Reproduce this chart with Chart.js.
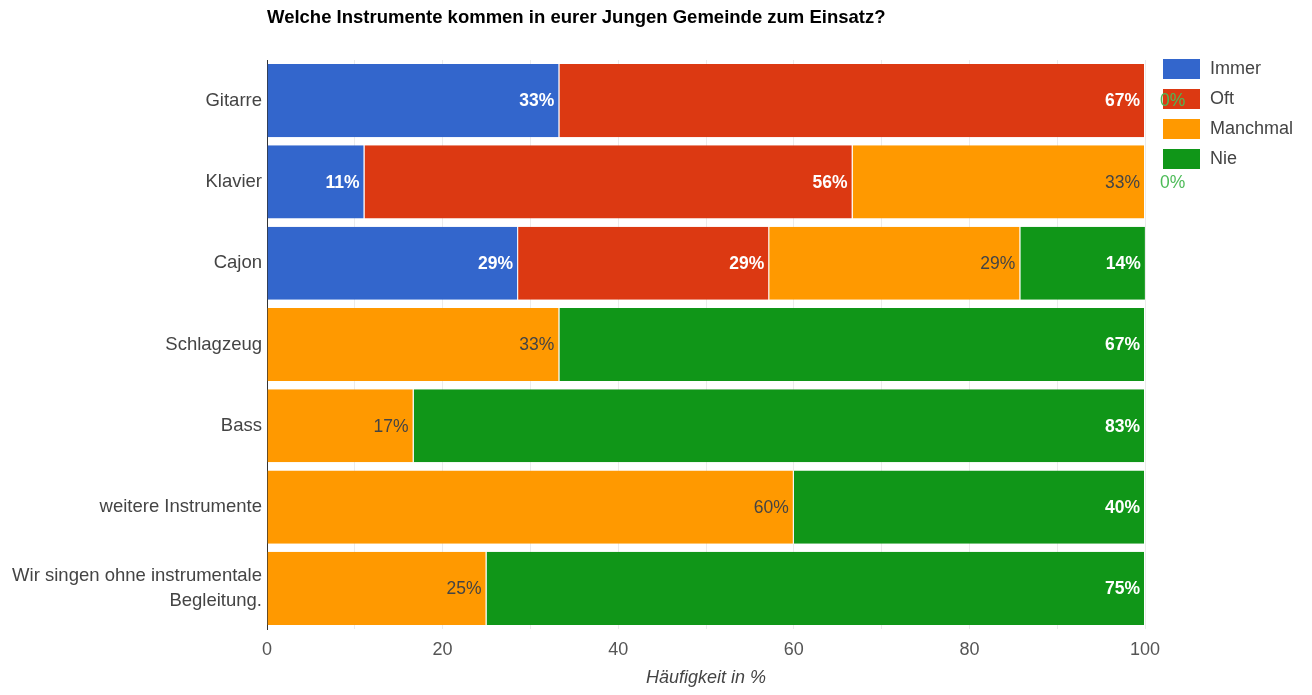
<!DOCTYPE html>
<html>
<head>
<meta charset="utf-8">
<script src="https://cdn.jsdelivr.net/npm/chart.js@4/dist/chart.umd.min.js"></script>
<style>
html,body{margin:0;padding:0;background:#fff;}
#wrap{width:1312px;height:695px;position:relative;}
</style>
</head>
<body>
<div id="wrap"><canvas id="c"></canvas></div>
<script>
const titleText = 'Welche Instrumente kommen in eurer Jungen Gemeinde zum Einsatz?';
const axisTitle = 'Häufigkeit in %';
const categories = ['Gitarre', 'Klavier', 'Cajon', 'Schlagzeug', 'Bass', 'weitere Instrumente', ['Wir singen ohne instrumentale', 'Begleitung.']];
const seriesNames = ['Immer', 'Oft', 'Manchmal', 'Nie'];
const immer    = [33.3, 11.1, 28.6, null, null, null, null];
const oft      = [66.7, 55.6, 28.6, null, null, null, null];
const manchmal = [null, 33.3, 28.6, 33.3, 16.7, 60.0, 25.0];
const nie      = [0,    0,    14.3, 66.7, 83.3, 40.0, 75.0];
const xTicks = [0, 20, 40, 60, 80, 100];
const colors = ['#3366cc', '#dc3912', '#ff9900', '#109618'];
const labelColors = ['#ffffff', '#ffffff', '#444444', '#ffffff'];
const labelBold = [true, true, false, true];
const FONT = "'Liberation Sans', Arial, sans-serif";

const seriesData = [immer, oft, manchmal, nie];

function drawLabels(chart) {
  const ctx = chart.ctx;
  chart.data.datasets.forEach((ds, di) => {
    const meta = chart.getDatasetMeta(di);
    meta.data.forEach((bar, i) => {
      const v = ds.data[i];
      if (v === null || v === undefined) return;
      const txt = Math.round(v) + '%';
      ctx.save();
      ctx.textBaseline = 'middle';
      if (v === 0) {
        ctx.font = '17.5px ' + FONT;
        ctx.fillStyle = '#4cbb57';
        ctx.textAlign = 'left';
        ctx.fillText(txt, bar.x + 15, bar.y + 1);
      } else {
        ctx.font = (labelBold[di] ? 'bold ' : '') + '17.5px ' + FONT;
        ctx.fillStyle = labelColors[di];
        ctx.textAlign = 'right';
        ctx.fillText(txt, bar.x - 5, bar.y + 1);
      }
      ctx.restore();
    });
  });
}

const decorPlugin = {
  id: 'decor',
  afterDraw(chart) {
    const ctx = chart.ctx;
    ctx.save();
    // title
    ctx.font = 'bold 18.5px ' + FONT;
    ctx.fillStyle = '#000';
    ctx.textAlign = 'left';
    ctx.textBaseline = 'middle';
    ctx.fillText(titleText, chart.chartArea.left, 18);
    // legend
    const lx = 1163, ly0 = 59, step = 30;
    chart.data.datasets.forEach((ds, i) => {
      const y = ly0 + i * step;
      ctx.fillStyle = ds.backgroundColor;
      ctx.fillRect(lx, y, 37, 20);
      ctx.fillStyle = '#444';
      ctx.font = '18px ' + FONT;
      ctx.textAlign = 'left';
      ctx.textBaseline = 'middle';
      ctx.fillText(ds.label, lx + 47, y + 10);
    });
    ctx.restore();
    drawLabels(chart);
  }
};

new Chart(document.getElementById('c'), {
  type: 'bar',
  data: {
    labels: categories,
    datasets: seriesNames.map((n, i) => ({
      label: n,
      data: seriesData[i],
      backgroundColor: colors[i],
      borderColor: '#ffffff',
      borderWidth: {left: 0, right: 1, top: 0, bottom: 0},
      borderSkipped: false,
      barPercentage: 0.9,
      categoryPercentage: 1.0
    }))
  },
  options: {
    indexAxis: 'y',
    responsive: true,
    maintainAspectRatio: false,
    animation: false,
    layout: {padding: {left: 0, right: 167, top: 60, bottom: 0}},
    plugins: {
      legend: {display: false},
      title: {display: false},
      tooltip: {enabled: false}
    },
    scales: {
      x: {
        stacked: true,
        min: 0,
        max: 100,
        afterFit(s) { s.height = 66; },
        afterBuildTicks(s) {
          const t = [];
          for (let v = 0; v <= 100; v += 10) t.push({value: v});
          s.ticks = t;
        },
        ticks: {
          padding: 10,
          color: '#555',
          font: {family: FONT, size: 18},
          maxRotation: 0,
          autoSkip: false,
          callback: (v) => xTicks.includes(v) ? String(v) : ''
        },
        grid: {color: '#ebebeb', drawTicks: false},
        border: {display: false},
        title: {
          display: true,
          text: axisTitle,
          color: '#444',
          font: {family: FONT, size: 18, style: 'italic'},
          padding: {top: 0, bottom: 6}
        }
      },
      y: {
        stacked: true,
        afterFit(s) { s.width = 267; },
        ticks: {
          padding: 5,
          color: '#444',
          font: {family: FONT, size: 18.5, lineHeight: 1.4},
          autoSkip: false
        },
        grid: {display: false, drawTicks: false},
        border: {display: true, color: '#333', width: 1}
      }
    }
  },
  plugins: [decorPlugin]
});
</script>
</body>
</html>
